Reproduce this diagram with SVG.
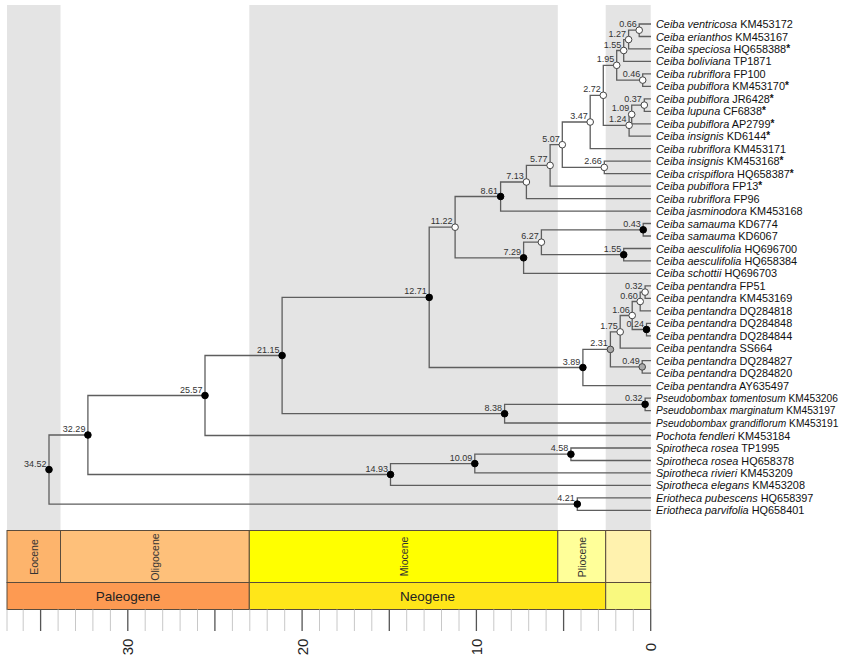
<svg xmlns="http://www.w3.org/2000/svg" width="850" height="662" viewBox="0 0 850 662">
<style>
.band{fill:#e4e4e4}
.br{fill:none;stroke:#5e5e5e;stroke-width:1.3}
.w{fill:#fff;stroke:#444;stroke-width:1}
.b{fill:#000;stroke:#000;stroke-width:1}
.g{fill:#aaa;stroke:#444;stroke-width:1}
.lab{font-family:"Liberation Sans",Arial,sans-serif;font-size:9px;fill:#333;text-anchor:end}
.tip{font-family:"Liberation Sans",Arial,sans-serif;font-size:10.9px;fill:#111}
.tip.sm{font-size:10.2px}
.i{font-style:italic}
.st{font-size:10px;font-weight:bold}
.box{stroke:#5a4c3c;stroke-width:1}
.ep{font-family:"Liberation Sans",Arial,sans-serif;font-size:10.5px;fill:#333;text-anchor:middle}
.per{font-family:"Liberation Sans",Arial,sans-serif;font-size:13.5px;fill:#222;text-anchor:middle}
.ax{font-family:"Liberation Sans",Arial,sans-serif;font-size:15px;fill:#222;text-anchor:middle}
.minor{fill:none;stroke:#c8c8c8;stroke-width:1}
.major{fill:none;stroke:#555;stroke-width:1.3}
</style>
<rect width="850" height="662" fill="#fff"/>
<g id="bands">
<rect class="band" x="7" y="5" width="53.5" height="525.5"/>
<rect class="band" x="249.3" y="5" width="308.5" height="525.5"/>
<rect class="band" x="605.7" y="5" width="45" height="525.5"/>
</g>
<g id="connectors">
<path class="br" d="M651 24H639.2V36.5H651"/>
<path class="br" d="M639.2 30.2H628.6V48.9H651"/>
<path class="br" d="M628.6 39.6H623.7V61.4H651"/>
<path class="br" d="M651 73.9H642.7V86.4H651"/>
<path class="br" d="M623.7 50.5H616.7V80.1H642.7"/>
<path class="br" d="M651 98.8H644.3V111.3H651"/>
<path class="br" d="M644.3 105.1H631.7V123.8H651"/>
<path class="br" d="M631.7 114.4H629.1V136.2H651"/>
<path class="br" d="M616.7 65.3H603.3V125.3H629.1"/>
<path class="br" d="M603.3 95.3H590.2V148.7H651"/>
<path class="br" d="M651 161.2H604.3V173.6H651"/>
<path class="br" d="M590.2 122H562.3V167.4H604.3"/>
<path class="br" d="M562.3 144.7H550.1V186.1H651"/>
<path class="br" d="M550.1 165.4H526.4V198.6H651"/>
<path class="br" d="M526.4 182H500.6V211.1H651"/>
<path class="br" d="M651 223.5H643.2V236H651"/>
<path class="br" d="M651 248.5H623.7V260.9H651"/>
<path class="br" d="M643.2 229.8H541.4V254.7H623.7"/>
<path class="br" d="M541.4 242.2H523.6V273.4H651"/>
<path class="br" d="M500.6 196.5H455.1V257.8H523.6"/>
<path class="br" d="M651 285.9H645.1V298.3H651"/>
<path class="br" d="M645.1 292.1H640.2V310.8H651"/>
<path class="br" d="M651 323.3H646.5V335.8H651"/>
<path class="br" d="M640.2 301.5H632.2V329.5H646.5"/>
<path class="br" d="M632.2 315.5H620.2V348.2H651"/>
<path class="br" d="M651 360.7H642.2V373.2H651"/>
<path class="br" d="M620.2 331.9H610.4V366.9H642.2"/>
<path class="br" d="M610.4 349.4H582.9V385.6H651"/>
<path class="br" d="M455.1 227.2H429.2V367.5H582.9"/>
<path class="br" d="M651 398.1H645.1V410.6H651"/>
<path class="br" d="M645.1 404.3H504.6V423H651"/>
<path class="br" d="M429.2 297.4H282.1V413.7H504.6"/>
<path class="br" d="M282.1 355.5H205V435.5H651"/>
<path class="br" d="M651 448H570.9V460.5H651"/>
<path class="br" d="M570.9 454.2H474.8V472.9H651"/>
<path class="br" d="M474.8 463.6H390.5V485.4H651"/>
<path class="br" d="M205 395.5H87.9V474.5H390.5"/>
<path class="br" d="M651 497.9H577.3V510.3H651"/>
<path class="br" d="M87.9 435H49V504.1H577.3"/>
</g>
<g id="internal-nodes">
<g id="n066"><circle class="w" cx="639.2" cy="30.2" r="3.3"/><text class="lab" x="636.7" y="27.2">0.66</text></g>
<g id="n127"><circle class="w" cx="628.6" cy="39.6" r="3.3"/><text class="lab" x="626.1" y="36.6">1.27</text></g>
<g id="n155a"><circle class="w" cx="623.7" cy="50.5" r="3.3"/><text class="lab" x="621.2" y="47.5">1.55</text></g>
<g id="n046"><circle class="w" cx="642.7" cy="80.1" r="3.3"/><text class="lab" x="640.2" y="77.1">0.46</text></g>
<g id="n195"><circle class="w" cx="616.7" cy="65.3" r="3.3"/><text class="lab" x="614.2" y="62.3">1.95</text></g>
<g id="n037"><circle class="w" cx="644.3" cy="105.1" r="3.3"/><text class="lab" x="641.8" y="102.1">0.37</text></g>
<g id="n109"><circle class="w" cx="631.7" cy="114.4" r="3.3"/><text class="lab" x="629.2" y="111.4">1.09</text></g>
<g id="n124"><circle class="w" cx="629.1" cy="125.3" r="3.3"/><text class="lab" x="626.6" y="122.3">1.24</text></g>
<g id="n272"><circle class="w" cx="603.3" cy="95.3" r="3.3"/><text class="lab" x="600.8" y="92.3">2.72</text></g>
<g id="n347"><circle class="w" cx="590.2" cy="122" r="3.3"/><text class="lab" x="587.7" y="119">3.47</text></g>
<g id="n266"><circle class="w" cx="604.3" cy="167.4" r="3.3"/><text class="lab" x="601.8" y="164.4">2.66</text></g>
<g id="n507"><circle class="w" cx="562.3" cy="144.7" r="3.3"/><text class="lab" x="559.8" y="141.7">5.07</text></g>
<g id="n577"><circle class="w" cx="550.1" cy="165.4" r="3.3"/><text class="lab" x="547.6" y="162.4">5.77</text></g>
<g id="n713"><circle class="w" cx="526.4" cy="182" r="3.3"/><text class="lab" x="523.9" y="179">7.13</text></g>
<g id="n861"><circle class="b" cx="500.6" cy="196.5" r="3.3"/><text class="lab" x="498.1" y="193.5">8.61</text></g>
<g id="n043"><circle class="b" cx="643.2" cy="229.8" r="3.3"/><text class="lab" x="640.7" y="226.8">0.43</text></g>
<g id="n155b"><circle class="b" cx="623.7" cy="254.7" r="3.3"/><text class="lab" x="621.2" y="251.7">1.55</text></g>
<g id="n627"><circle class="w" cx="541.4" cy="242.2" r="3.3"/><text class="lab" x="538.9" y="239.2">6.27</text></g>
<g id="n729"><circle class="b" cx="523.6" cy="257.8" r="3.3"/><text class="lab" x="521.1" y="254.8">7.29</text></g>
<g id="n1122"><circle class="w" cx="455.1" cy="227.2" r="3.3"/><text class="lab" x="452.6" y="224.2">11.22</text></g>
<g id="n032a"><circle class="w" cx="645.1" cy="292.1" r="3.3"/><text class="lab" x="642.6" y="289.1">0.32</text></g>
<g id="n060"><circle class="w" cx="640.2" cy="301.5" r="3.3"/><text class="lab" x="637.7" y="298.5">0.60</text></g>
<g id="n024"><circle class="b" cx="646.5" cy="329.5" r="3.3"/><text class="lab" x="644" y="326.5">0.24</text></g>
<g id="n106"><circle class="w" cx="632.2" cy="315.5" r="3.3"/><text class="lab" x="629.7" y="312.5">1.06</text></g>
<g id="n175"><circle class="w" cx="620.2" cy="331.9" r="3.3"/><text class="lab" x="617.7" y="328.9">1.75</text></g>
<g id="n049"><circle class="g" cx="642.2" cy="366.9" r="3.3"/><text class="lab" x="639.7" y="363.9">0.49</text></g>
<g id="n231"><circle class="g" cx="610.4" cy="349.4" r="3.3"/><text class="lab" x="607.9" y="346.4">2.31</text></g>
<g id="n389"><circle class="b" cx="582.9" cy="367.5" r="3.3"/><text class="lab" x="580.4" y="364.5">3.89</text></g>
<g id="n1271"><circle class="b" cx="429.2" cy="297.4" r="3.3"/><text class="lab" x="426.7" y="294.4">12.71</text></g>
<g id="n032b"><circle class="b" cx="645.1" cy="404.3" r="3.3"/><text class="lab" x="642.6" y="401.3">0.32</text></g>
<g id="n838"><circle class="b" cx="504.6" cy="413.7" r="3.3"/><text class="lab" x="502.1" y="410.7">8.38</text></g>
<g id="n2115"><circle class="b" cx="282.1" cy="355.5" r="3.3"/><text class="lab" x="279.6" y="352.5">21.15</text></g>
<g id="n2557"><circle class="b" cx="205" cy="395.5" r="3.3"/><text class="lab" x="202.5" y="392.5">25.57</text></g>
<g id="n458"><circle class="b" cx="570.9" cy="454.2" r="3.3"/><text class="lab" x="568.4" y="451.2">4.58</text></g>
<g id="n1009"><circle class="b" cx="474.8" cy="463.6" r="3.3"/><text class="lab" x="472.3" y="460.6">10.09</text></g>
<g id="n1493"><circle class="b" cx="390.5" cy="474.5" r="3.3"/><text class="lab" x="388" y="471.5">14.93</text></g>
<g id="n3229"><circle class="b" cx="87.9" cy="435" r="3.3"/><text class="lab" x="85.4" y="432">32.29</text></g>
<g id="n421"><circle class="b" cx="577.3" cy="504.1" r="3.3"/><text class="lab" x="574.8" y="501.1">4.21</text></g>
<g id="n3452"><circle class="b" cx="49" cy="469.6" r="3.3"/><text class="lab" x="46.5" y="466.6">34.52</text></g>
</g>
<g id="tips">
<g id="t01"><text class="tip" x="656" y="28"><tspan class="i">Ceiba ventricosa</tspan> KM453172</text></g>
<g id="t02"><text class="tip" x="656" y="40.5"><tspan class="i">Ceiba erianthos</tspan> KM453167</text></g>
<g id="t03"><text class="tip" x="656" y="52.9"><tspan class="i">Ceiba speciosa</tspan> HQ658388<tspan class="st" dy="-1">*</tspan></text></g>
<g id="t04"><text class="tip" x="656" y="65.4"><tspan class="i">Ceiba boliviana</tspan> TP1871</text></g>
<g id="t05"><text class="tip" x="656" y="77.9"><tspan class="i">Ceiba rubriflora</tspan> FP100</text></g>
<g id="t06"><text class="tip" x="656" y="90.4"><tspan class="i">Ceiba pubiflora</tspan> KM453170<tspan class="st" dy="-1">*</tspan></text></g>
<g id="t07"><text class="tip" x="656" y="102.8"><tspan class="i">Ceiba pubiflora</tspan> JR6428<tspan class="st" dy="-1">*</tspan></text></g>
<g id="t08"><text class="tip" x="656" y="115.3"><tspan class="i">Ceiba lupuna</tspan> CF6838<tspan class="st" dy="-1">*</tspan></text></g>
<g id="t09"><text class="tip" x="656" y="127.8"><tspan class="i">Ceiba pubiflora</tspan> AP2799<tspan class="st" dy="-1">*</tspan></text></g>
<g id="t10"><text class="tip" x="656" y="140.2"><tspan class="i">Ceiba insignis</tspan> KD6144<tspan class="st" dy="-1">*</tspan></text></g>
<g id="t11"><text class="tip" x="656" y="152.7"><tspan class="i">Ceiba rubriflora</tspan> KM453171</text></g>
<g id="t12"><text class="tip" x="656" y="165.2"><tspan class="i">Ceiba insignis</tspan> KM453168<tspan class="st" dy="-1">*</tspan></text></g>
<g id="t13"><text class="tip" x="656" y="177.6"><tspan class="i">Ceiba crispiflora</tspan> HQ658387<tspan class="st" dy="-1">*</tspan></text></g>
<g id="t14"><text class="tip" x="656" y="190.1"><tspan class="i">Ceiba pubiflora</tspan> FP13<tspan class="st" dy="-1">*</tspan></text></g>
<g id="t15"><text class="tip" x="656" y="202.6"><tspan class="i">Ceiba rubriflora</tspan> FP96</text></g>
<g id="t16"><text class="tip" x="656" y="215.1"><tspan class="i">Ceiba jasminodora</tspan> KM453168</text></g>
<g id="t17"><text class="tip" x="656" y="227.5"><tspan class="i">Ceiba samauma</tspan> KD6774</text></g>
<g id="t18"><text class="tip" x="656" y="240"><tspan class="i">Ceiba samauma</tspan> KD6067</text></g>
<g id="t19"><text class="tip" x="656" y="252.5"><tspan class="i">Ceiba aesculifolia</tspan> HQ696700</text></g>
<g id="t20"><text class="tip" x="656" y="264.9"><tspan class="i">Ceiba aesculifolia</tspan> HQ658384</text></g>
<g id="t21"><text class="tip" x="656" y="277.4"><tspan class="i">Ceiba schottii</tspan> HQ696703</text></g>
<g id="t22"><text class="tip" x="656" y="289.9"><tspan class="i">Ceiba pentandra</tspan> FP51</text></g>
<g id="t23"><text class="tip" x="656" y="302.3"><tspan class="i">Ceiba pentandra</tspan> KM453169</text></g>
<g id="t24"><text class="tip" x="656" y="314.8"><tspan class="i">Ceiba pentandra</tspan> DQ284818</text></g>
<g id="t25"><text class="tip" x="656" y="327.3"><tspan class="i">Ceiba pentandra</tspan> DQ284848</text></g>
<g id="t26"><text class="tip" x="656" y="339.8"><tspan class="i">Ceiba pentandra</tspan> DQ284844</text></g>
<g id="t27"><text class="tip" x="656" y="352.2"><tspan class="i">Ceiba pentandra</tspan> SS664</text></g>
<g id="t28"><text class="tip" x="656" y="364.7"><tspan class="i">Ceiba pentandra</tspan> DQ284827</text></g>
<g id="t29"><text class="tip" x="656" y="377.2"><tspan class="i">Ceiba pentandra</tspan> DQ284820</text></g>
<g id="t30"><text class="tip" x="656" y="389.6"><tspan class="i">Ceiba pentandra</tspan> AY635497</text></g>
<g id="t31"><text class="tip sm" x="656" y="401.9"><tspan class="i">Pseudobombax tomentosum</tspan> KM453206</text></g>
<g id="t32"><text class="tip sm" x="656" y="414.4"><tspan class="i">Pseudobombax marginatum</tspan> KM453197</text></g>
<g id="t33"><text class="tip sm" x="656" y="426.8"><tspan class="i">Pseudobombax grandiflorum</tspan> KM453191</text></g>
<g id="t34"><text class="tip" x="656" y="439.5"><tspan class="i">Pochota fendleri</tspan> KM453184</text></g>
<g id="t35"><text class="tip" x="656" y="452"><tspan class="i">Spirotheca rosea</tspan> TP1995</text></g>
<g id="t36"><text class="tip" x="656" y="464.5"><tspan class="i">Spirotheca rosea</tspan> HQ658378</text></g>
<g id="t37"><text class="tip" x="656" y="476.9"><tspan class="i">Spirotheca rivieri</tspan> KM453209</text></g>
<g id="t38"><text class="tip" x="656" y="489.4"><tspan class="i">Spirotheca elegans</tspan> KM453208</text></g>
<g id="t39"><text class="tip" x="656" y="501.9"><tspan class="i">Eriotheca pubescens</tspan> HQ658397</text></g>
<g id="t40"><text class="tip" x="656" y="514.3"><tspan class="i">Eriotheca parvifolia</tspan> HQ658401</text></g>
</g>
<g id="timescale">
<rect class="box" x="7" y="530.5" width="53.5" height="52" fill="#FDB46C"/>
<rect class="box" x="60.5" y="530.5" width="188.8" height="52" fill="#FEC07A"/>
<rect class="box" x="249.3" y="530.5" width="308.5" height="52" fill="#FFFF00"/>
<rect class="box" x="557.8" y="530.5" width="47.9" height="52" fill="#FFFF99"/>
<rect class="box" x="605.7" y="530.5" width="45" height="52" fill="#FFF2AE"/>
<rect class="box" x="7" y="582.5" width="242.3" height="27" fill="#FD9A52"/>
<rect class="box" x="249.3" y="582.5" width="356.4" height="27" fill="#FFE619"/>
<rect class="box" x="605.7" y="582.5" width="45" height="27" fill="#F9F97F"/>
<text class="ep" transform="translate(34,557) rotate(-90)" dy="0.36em">Eocene</text>
<text class="ep" transform="translate(155,557) rotate(-90)" dy="0.36em">Oligocene</text>
<text class="ep" transform="translate(404.5,556.5) rotate(-90)" dy="0.36em">Miocene</text>
<text class="ep" transform="translate(581.8,557) rotate(-90)" dy="0.36em">Pliocene</text>
<text class="per" x="128" y="600.5">Paleogene</text>
<text class="per" x="427.5" y="600.5">Neogene</text>
</g>
<g id="axis">
<path class="minor" d="M7 609.5V631M23.2 609.5V631M58.1 609.5V631M75.5 609.5V631M92.9 609.5V631M110.4 609.5V631M145.2 609.5V631M162.7 609.5V631M180.1 609.5V631M197.5 609.5V631M232.4 609.5V631M249.8 609.5V631M267.2 609.5V631M284.7 609.5V631M319.5 609.5V631M337 609.5V631M354.4 609.5V631M371.8 609.5V631M406.7 609.5V631M424.1 609.5V631M441.5 609.5V631M459 609.5V631M493.8 609.5V631M511.3 609.5V631M528.7 609.5V631M546.1 609.5V631M581 609.5V631M598.4 609.5V631M615.8 609.5V631M633.3 609.5V631"/>
<path class="major" d="M40.6 609.5V631M127.8 609.5V631M214.9 609.5V631M302.1 609.5V631M389.3 609.5V631M476.4 609.5V631M563.6 609.5V631M650.7 609.5V631"/>
<text class="ax" transform="translate(128,647) rotate(-90)" dy="0.36em">30</text>
<text class="ax" transform="translate(302.1,647) rotate(-90)" dy="0.36em">20</text>
<text class="ax" transform="translate(476.4,647) rotate(-90)" dy="0.36em">10</text>
<text class="ax" transform="translate(650.7,647) rotate(-90)" dy="0.36em">0</text>
</g>
</svg>
